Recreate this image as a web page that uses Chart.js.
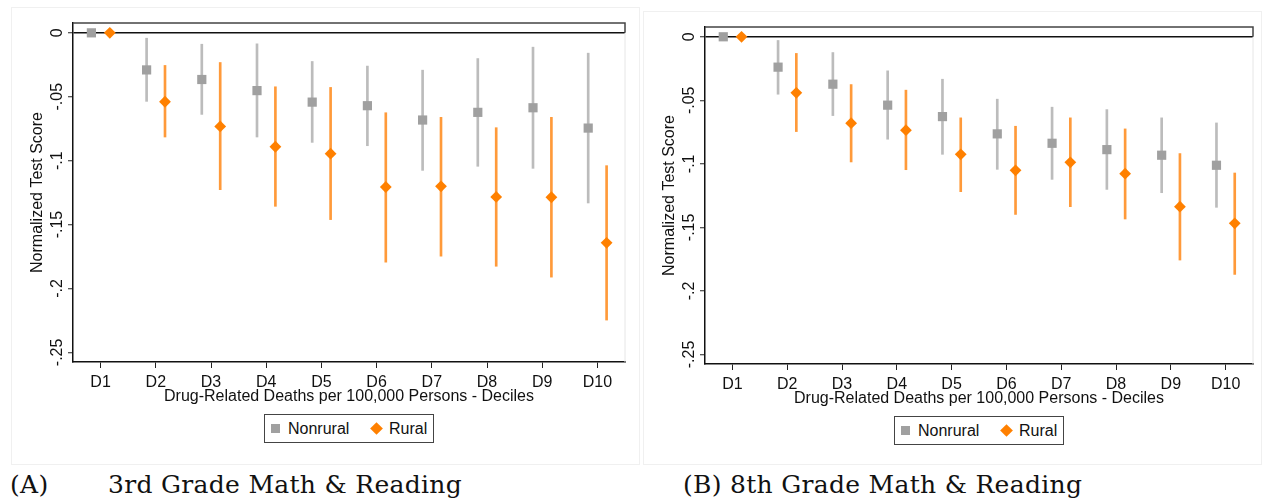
<!DOCTYPE html>
<html>
<head>
<meta charset="utf-8">
<script src="https://cdn.jsdelivr.net/npm/chart.js@4.4.1/dist/chart.umd.min.js"></script>
<style>
  body { margin: 0; width: 1262px; height: 502px; background: #fff; position: relative; overflow: hidden;
         font-family: "Liberation Sans", Arial, sans-serif; color: #111; }
  .panel { position: absolute; border: 1px solid #f0f0f0; box-sizing: border-box; }
  canvas { position: absolute; }
  .legend { position: absolute; width: 170px; height: 29px; border: 1px solid #444; box-sizing: border-box; font-size: 16px; background: #fff; }
  .legend .sq { position: absolute; left: 6px; top: 9px; width: 9px; height: 9px; background: #a0a0a0; }
  .legend .dm { position: absolute; left: 107px; top: 9px; width: 9px; height: 9px; background: #ff8000; transform: rotate(45deg); }
  .legend .t1 { position: absolute; left: 23px; top: 0; line-height: 27px; }
  .legend .t2 { position: absolute; left: 124px; top: 0; line-height: 27px; }
  .cap { position: absolute; top: 470px; font-family: "DejaVu Serif", serif; font-size: 25px; line-height: 30px; letter-spacing: 0.3px; color: #111; white-space: nowrap; }
</style>
</head>
<body>
<div class="panel" style="left:11px; top:7px; width:629px; height:458px;"></div>
<div class="panel" style="left:643px; top:11px; width:619px; height:454px;"></div>

<canvas id="chartA" width="640" height="406" style="left:0; top:0;"></canvas>
<canvas id="chartB" width="630" height="408" style="left:632px; top:0;"></canvas>

<div class="legend" style="left:264px; top:414px;"><div class="sq"></div><span class="t1">Nonrural</span><div class="dm"></div><span class="t2">Rural</span></div>
<div class="legend" style="left:894px; top:416px;"><div class="sq"></div><span class="t1">Nonrural</span><div class="dm"></div><span class="t2">Rural</span></div>

<div class="cap" style="left:10px;">(A)</div>
<div class="cap" style="left:108px;">3rd Grade Math &amp; Reading</div>
<div class="cap" style="left:683px;">(B) 8th Grade Math &amp; Reading</div>

<script>
// kategoriler ve eksen degerleri
const categories = ['D1', 'D2', 'D3', 'D4', 'D5', 'D6', 'D7', 'D8', 'D9', 'D10'];
const xTicks = [1, 2, 3, 4, 5, 6, 7, 8, 9, 10];
const yTicks = [0, -0.05, -0.1, -0.15, -0.2, -0.25];

// (A) 3rd grade
const nonruralA = [0, -0.0290, -0.0365, -0.0452, -0.0542, -0.0570, -0.0682, -0.0622, -0.0586, -0.0745];
const nonruralALo = [null, -0.0536, -0.0638, -0.0815, -0.0857, -0.0883, -0.1076, -0.1044, -0.1060, -0.1331];
const nonruralAHi = [null, -0.0042, -0.0089, -0.0086, -0.0224, -0.0260, -0.0292, -0.0201, -0.0112, -0.0159];
const ruralA = [0, -0.0539, -0.0732, -0.0891, -0.0945, -0.1206, -0.1201, -0.1284, -0.1286, -0.1643];
const ruralALo = [null, -0.0815, -0.1227, -0.1357, -0.1461, -0.1794, -0.1747, -0.1826, -0.1911, -0.2247];
const ruralAHi = [null, -0.0255, -0.0232, -0.0422, -0.0427, -0.0625, -0.0661, -0.0742, -0.0661, -0.1039];

// (B) 8th grade
const nonruralB = [0, -0.0239, -0.0373, -0.0538, -0.0628, -0.0764, -0.0838, -0.0888, -0.0932, -0.1011];
const nonruralBLo = [null, -0.0452, -0.0620, -0.0806, -0.0925, -0.1043, -0.1122, -0.1201, -0.1227, -0.1342];
const nonruralBHi = [null, -0.0029, -0.0124, -0.0268, -0.0334, -0.0491, -0.0554, -0.0573, -0.0638, -0.0678];
const ruralB = [0, -0.0441, -0.0680, -0.0735, -0.0925, -0.1051, -0.0988, -0.1077, -0.1337, -0.1468];
const ruralBLo = [null, -0.0746, -0.0985, -0.1046, -0.1219, -0.1398, -0.1337, -0.1434, -0.1757, -0.1870];
const ruralBHi = [null, -0.0131, -0.0376, -0.0420, -0.0638, -0.0704, -0.0638, -0.0725, -0.0919, -0.1072];

const FONT = '"Liberation Sans", Arial, sans-serif';
Chart.defaults.font.family = FONT;
Chart.defaults.color = '#111';

const GRAY = '#a0a0a0', GRAY_CI = '#bcbcbc';
const ORANGE = '#ff8000', ORANGE_CI = '#ff9a3a';
const SHIFT = 1 / 6; // iki grubun kategori icindeki kaymasi

function fmtTick(v) {
    const r = Math.round(v * 100) / 100;
    if (r === 0) return '0';
    return (r < 0 ? '-' : '') + String(Math.abs(r)).replace(/^0/, '');
}

// ust cerceve + dondurulmus y etiketleri
const frameAndLabels = {
    id: 'frameAndLabels',
    afterDraw(chart) {
        const { ctx, chartArea: a, scales: { y } } = chart;
        const zeroY = y.getPixelForValue(0);
        ctx.save();
        ctx.strokeStyle = '#e6e6e6';
        ctx.lineWidth = 1;
        ctx.beginPath();
        ctx.moveTo(a.right, zeroY);
        ctx.lineTo(a.right, a.bottom);
        ctx.stroke();
        ctx.strokeStyle = '#444';
        ctx.lineWidth = 1.5;
        ctx.beginPath();
        ctx.moveTo(a.left, a.top);
        ctx.lineTo(a.right, a.top);
        ctx.lineTo(a.right, zeroY);
        ctx.stroke();
        ctx.fillStyle = '#111';
        ctx.font = '16px ' + FONT;
        ctx.textAlign = 'center';
        ctx.textBaseline = 'alphabetic';
        y.ticks.forEach(t => {
            ctx.save();
            ctx.translate(a.left - 11, y.getPixelForValue(t.value));
            ctx.rotate(-Math.PI / 2);
            ctx.fillText(fmtTick(t.value), 0, 0);
            ctx.restore();
        });
        ctx.restore();
    }
};

function ciData(lo, hi, shift) {
    const out = [];
    categories.forEach((c, i) => {
        if (lo[i] !== null) out.push({ x: xTicks[i] + shift, y: [lo[i], hi[i]] });
    });
    return out;
}

function pointData(vals, shift) {
    return vals.map((v, i) => ({ x: xTicks[i] + shift, y: v }));
}

function cizPanel(canvasId, nonrural, nLo, nHi, rural, rLo, rHi, pad) {
    return new Chart(document.getElementById(canvasId), {
        type: 'scatter',
        data: {
            datasets: [
                { type: 'bar', label: 'Nonrural CI', data: ciData(nLo, nHi, -SHIFT), backgroundColor: GRAY_CI,
                  barThickness: 2, grouped: false, order: 3 },
                { type: 'bar', label: 'Rural CI', data: ciData(rLo, rHi, SHIFT), backgroundColor: ORANGE_CI,
                  barThickness: 2, grouped: false, order: 3 },
                { label: 'Nonrural', data: pointData(nonrural, -SHIFT), pointStyle: 'rect', pointRadius: 6.5,
                  backgroundColor: GRAY, borderWidth: 0, order: 1 },
                { label: 'Rural', data: pointData(rural, SHIFT), pointStyle: 'rectRot', pointRadius: 5.9,
                  backgroundColor: ORANGE, borderWidth: 0, order: 1 }
            ]
        },
        options: {
            responsive: false,
            devicePixelRatio: 1,
            animation: false,
            events: [],
            layout: { padding: pad },
            plugins: { legend: { display: false }, tooltip: { enabled: false } },
            scales: {
                x: {
                    type: 'linear', min: 0.5, max: 10.5, offset: false,
                    afterBuildTicks: s => { s.ticks = xTicks.map(v => ({ value: v })); },
                    afterFit: s => { s.height = 44; },
                    ticks: { callback: v => categories[v - 1], autoSkip: false, minRotation: 0, maxRotation: 0,
                             padding: 5, font: { size: 16 }, color: '#111' },
                    grid: { display: true, drawOnChartArea: false, offset: false, tickLength: 6, color: '#222', lineWidth: 1 },
                    border: { color: '#111', width: 1.5 },
                    title: { display: true, text: 'Drug-Related Deaths per 100,000 Persons - Deciles',
                             font: { size: 16 }, color: '#111', padding: { top: 0, bottom: 0 } }
                },
                y: {
                    type: 'linear', min: -0.2575, max: 0.0077,
                    afterBuildTicks: s => { s.ticks = yTicks.map(v => ({ value: v })); },
                    afterFit: s => { s.width = 73; },
                    ticks: { display: false },
                    grid: { color: c => (c.tick && c.tick.value === 0 ? '#111' : 'rgba(0,0,0,0)'),
                            lineWidth: 1.5, tickLength: 5, tickColor: '#222', tickWidth: 1 },
                    border: { color: '#111', width: 1.5 },
                    title: { display: true, text: 'Normalized Test Score', font: { size: 16 }, color: '#111',
                             padding: { top: 28, bottom: 0 } }
                }
            }
        },
        plugins: [frameAndLabels]
    });
}

cizPanel('chartA', nonruralA, nonruralALo, nonruralAHi, ruralA, ruralALo, ruralAHi,
         { top: 23, right: 15, left: 0, bottom: 0 });
cizPanel('chartB', nonruralB, nonruralBLo, nonruralBHi, ruralB, ruralBLo, ruralBHi,
         { top: 27, right: 9, left: 0, bottom: 0 });
</script>
</body>
</html>
